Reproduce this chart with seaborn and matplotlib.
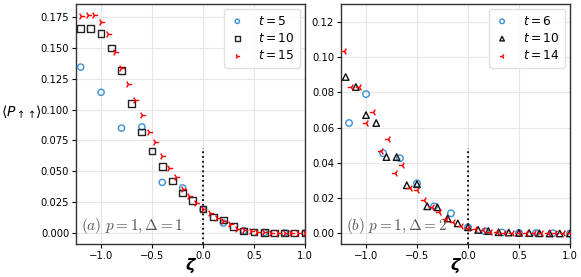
import numpy as np
import pandas as pd
import matplotlib
matplotlib.use("Agg")
import matplotlib.pyplot as plt
import seaborn as sns

# panel (a): p=1, Delta=1
z5 = [-1.2, -1.0, -0.8, -0.6, -0.4, -0.2, 0.0, 0.2, 0.4, 0.6, 0.8, 1.0]
p5 = [0.1345, 0.114, 0.085, 0.086, 0.041, 0.0365, 0.019, 0.008, 0.0018, 0.0003, 0.0, 0.0]

z10 = [-1.2, -1.1, -1.0, -0.9, -0.8, -0.7, -0.6, -0.5, -0.4, -0.3, -0.2, -0.1,
       0.0, 0.1, 0.2, 0.3, 0.4, 0.5, 0.6, 0.7, 0.8, 0.9, 1.0]
p10 = [0.166, 0.1655, 0.1615, 0.150, 0.1315, 0.105, 0.0818, 0.0664, 0.054, 0.0421,
       0.0324, 0.026, 0.0194, 0.013, 0.0105, 0.0049, 0.0016, 0.0008, 0.0002, 0.0, 0.0, 0.0, 0.0]

z15 = [-1.2, -1.133, -1.067, -1.0, -0.933, -0.867, -0.8, -0.733, -0.667, -0.6, -0.533,
       -0.467, -0.4, -0.333, -0.267, -0.2, -0.133, -0.067, 0.0, 0.067, 0.133, 0.2, 0.267,
       0.333, 0.4, 0.467, 0.533, 0.6, 0.667, 0.733, 0.8, 0.867, 0.933, 1.0]
p15 = [0.176, 0.1765, 0.1765, 0.171, 0.161, 0.147, 0.134, 0.1207, 0.1077, 0.0956, 0.0818,
       0.0737, 0.0624, 0.0525, 0.0454, 0.036, 0.030, 0.0243, 0.0194, 0.0162, 0.0125, 0.0095,
       0.007, 0.0035, 0.002, 0.0012, 0.0008, 0.0005, 0.0003, 0.0002, 0.0001, 0.0, 0.0, 0.0]

# panel (b): p=1, Delta=2
z6 = [-1.167, -1.0, -0.833, -0.667, -0.5, -0.333, -0.167, 0.0, 0.167, 0.333, 0.5, 0.667, 0.833, 1.0]
q6 = [0.0626, 0.079, 0.0455, 0.0426, 0.0284, 0.0154, 0.0114, 0.0035, 0.0012, 0.0005,
      0.0003, 0.0002, 0.0001, 0.0]

q10 = [0.0887, 0.083, 0.0671, 0.0626, 0.0433, 0.0433, 0.0273, 0.0279, 0.0154, 0.0148,
       0.0085, 0.0057, 0.0035, 0.002, 0.0014, 0.0007, 0.0005, 0.0003, 0.0002, 0.0001, 0.0, 0.0, 0.0]

z14 = [-1.214, -1.143, -1.071, -1.0, -0.929, -0.857, -0.786, -0.714, -0.643, -0.571, -0.5,
       -0.429, -0.357, -0.286, -0.214, -0.143, -0.071, 0.0, 0.071, 0.143, 0.214, 0.286,
       0.357, 0.429, 0.5, 0.571, 0.643, 0.714, 0.786, 0.857, 0.929, 1.0]
q14 = [0.1035, 0.083, 0.083, 0.0626, 0.0688, 0.047, 0.0535, 0.034, 0.0387, 0.0256, 0.0245,
       0.0188, 0.0148, 0.012, 0.008, 0.0063, 0.004, 0.003, 0.0023, 0.0017, 0.001, 0.0007,
       0.0005, 0.0004, 0.0003, 0.0002, 0.0001, 0.0001, 0.0, 0.0, 0.0, 0.0]

blue = "#3a8fd6"

fig = plt.figure(figsize=(5.81, 2.77), dpi=100)
ax1 = fig.add_axes([0.131, 0.119, 0.394, 0.866])
ax2 = fig.add_axes([0.587, 0.119, 0.394, 0.866])


def open_pts(ax, x, y, marker, color, label, s):
    sns.scatterplot(x=x, y=y, ax=ax, marker=marker, s=s, facecolor="none",
                    edgecolor=color, linewidth=1.0, label=label, zorder=3)


def tri_pts(ax, x, y, marker, label):
    sns.scatterplot(x=x, y=y, ax=ax, marker=marker, s=28, color="red",
                    linewidth=1.0, label=label, zorder=4)


open_pts(ax1, z5, p5, "o", blue, "$t=5$", 20)
open_pts(ax1, z10, p10, "s", "#222222", "$t=10$", 24)
tri_pts(ax1, z15, p15, "4", "$t=15$")

open_pts(ax2, z6, q6, "o", blue, "$t=6$", 22)
open_pts(ax2, z10, q10, "^", "#111111", "$t=10$", 22)
tri_pts(ax2, z14, q14, "3", "$t=14$")

ax1.set_ylim(-0.009, 0.1855)
ax1.set_yticks([0.0, 0.025, 0.05, 0.075, 0.1, 0.125, 0.15, 0.175])
ax2.set_ylim(-0.006, 0.130)
ax2.set_yticks([0.0, 0.02, 0.04, 0.06, 0.08, 0.1, 0.12])

for ax, tag in [(ax1, r"$(a)\ p=1,\Delta=1$"), (ax2, r"$(b)\ p=1,\Delta=2$")]:
    ax.set_xlim(-1.245, 1.0)
    ax.set_xticks([-1.0, -0.5, 0.0, 0.5, 1.0])
    ax.grid(color="#e6e6e6", linewidth=0.8, zorder=0)
    ax.set_axisbelow(True)
    ax.tick_params(labelsize=7.2, length=3, width=0.8, pad=2)
    for sp in ax.spines.values():
        sp.set_color("#333333")
        sp.set_linewidth(1.0)
    ax.axvline(0.0, ymin=0, ymax=0.4, color="black", linestyle=":", linewidth=1.3, zorder=2)
    ax.text(0.02, 0.035, tag, transform=ax.transAxes, fontsize=11, color="#555555",
            math_fontfamily="cm", ha="left", va="bottom")
    ax.set_xlabel("ζ", fontsize=11.5, fontweight="bold", fontstyle="italic", labelpad=-2)
    ax.set_ylabel("")
    ax.legend(loc="upper right", fontsize=8.8, handlelength=1.2, handletextpad=1.1,
              borderpad=0.45, labelspacing=0.35, markerscale=0.7,
              framealpha=0.9, edgecolor="#dddddd", borderaxespad=0.4)

fig.text(41 / 581, 0.596, r"$\langle P_{\uparrow\!\uparrow}\!\rangle$", fontsize=10,
         ha="right", va="center")

fig.savefig("out.png", dpi=100)
